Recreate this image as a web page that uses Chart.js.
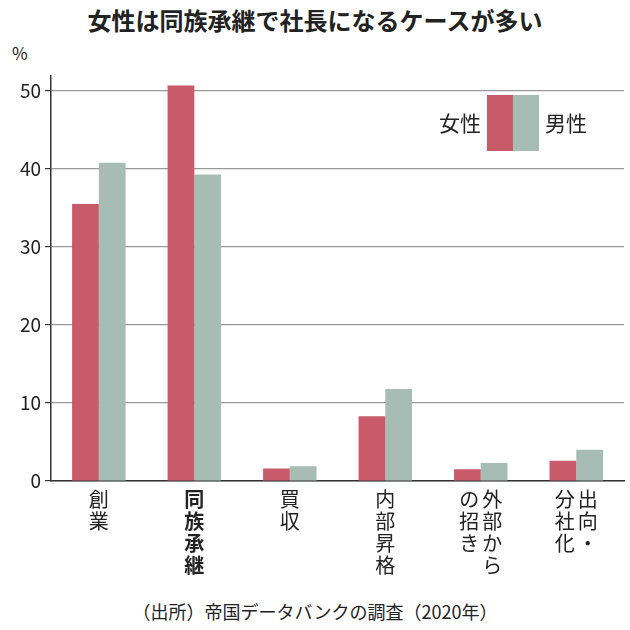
<!DOCTYPE html>
<html>
<head>
<meta charset="utf-8">
<script src="https://cdn.jsdelivr.net/npm/chart.js@4"></script>
<style>
  body{margin:0;background:#fff;font-family:"Noto Sans CJK JP",sans-serif;}
  #wrap{position:relative;width:630px;height:630px;}
  #title{position:absolute;left:0;top:2px;width:630px;text-align:center;font-size:24px;font-weight:bold;color:#222;}
  #unit{position:absolute;left:12px;top:40px;font-size:17px;color:#222;}
  #source{position:absolute;left:0;top:598px;width:630px;text-align:center;font-size:18px;color:#222;}
  #box{position:absolute;left:0;top:60px;width:630px;height:535px;}
</style>
</head>
<body>
<div id="wrap">
  <div id="title">女性は同族承継で社長になるケースが多い</div>
  <div id="unit">%</div>
  <div id="box"><canvas id="c"></canvas></div>
  <div id="source">（出所）帝国データバンクの調査（2020年）</div>
</div>
<script>
// data
const categories = ['創業','同族承継','買収','内部昇格','外部からの招き','出向・分社化'];
// vertical label columns, right to left
const labelColumns = [['創業'],['同族承継'],['買収'],['内部昇格'],['外部から','の招き'],['出向・','分社化']];
const women = [35.5, 50.7, 1.6, 8.3, 1.5, 2.6];
const men   = [40.8, 39.3, 1.9, 11.8, 2.3, 4.0];
const yTicks = [0,10,20,30,40,50];

const RED = '#c85a69';
const GRN = '#a8bcb6';

// vertical category labels
const vLabels = {
  id:'vLabels',
  afterDraw(chart){
    const ctx = chart.ctx, xs = chart.scales.x;
    const top = chart.chartArea.bottom + 8;
    labelColumns.forEach((cols,i)=>{
      const cx = xs.getPixelForValue(i);
      const n = cols.length;
      cols.forEach((col,j)=>{
        const x = cx + ((n-1)/2 - j)*23;
        ctx.save();
        ctx.font = (i===1?'bold ':'')+'20px "Noto Sans CJK JP"';
        ctx.fillStyle = '#222';
        ctx.textAlign = 'center';
        ctx.textBaseline = 'top';
        [...col].forEach((ch,k)=>{
          ctx.fillText(ch,x,top + k*22);
        });
        ctx.restore();
      });
    });
  }
};

// legend: 女性 [red][green] 男性
const legendBox = {
  id:'legendBox',
  afterDraw(chart){
    const ctx = chart.ctx;
    const x0 = 487, y0 = 35;
    ctx.save();
    ctx.fillStyle = RED; ctx.fillRect(x0, y0, 26, 56);
    ctx.fillStyle = GRN; ctx.fillRect(x0+26, y0, 26, 56);
    ctx.fillStyle = '#222';
    ctx.font = '21px "Noto Sans CJK JP"';
    ctx.textBaseline = 'middle';
    ctx.textAlign = 'right'; ctx.fillText('女性', x0-6, y0+28);
    ctx.textAlign = 'left'; ctx.fillText('男性', x0+58, y0+28);
    ctx.restore();
  }
};

new Chart(document.getElementById('c'),{
  type:'bar',
  data:{
    labels:categories,
    datasets:[
      {label:'女性',data:women,backgroundColor:RED,categoryPercentage:0.56,barPercentage:1},
      {label:'男性',data:men,backgroundColor:GRN,categoryPercentage:0.56,barPercentage:1}
    ]
  },
  options:{
    responsive:true,
    maintainAspectRatio:false,
    animation:false,
    layout:{padding:{top:8,right:6,bottom:0,left:16}},
    plugins:{legend:{display:false},tooltip:{enabled:false}},
    scales:{
      x:{
        grid:{display:false},
        border:{color:'#333',width:1.5},
        ticks:{display:false},
        afterFit(s){ s.height = 114; }
      },
      y:{
        min:0,max:52,
        afterBuildTicks(s){ s.ticks = yTicks.map(v=>({value:v})); },
        grid:{color:'#999',lineWidth:1.2,drawTicks:true,tickLength:6,tickColor:'#333'},
        border:{color:'#333',width:1.5},
        ticks:{color:'#222',font:{size:19,family:'"Noto Sans CJK JP"'},padding:4}
      }
    }
  },
  plugins:[vLabels,legendBox]
});
</script>
</body>
</html>
